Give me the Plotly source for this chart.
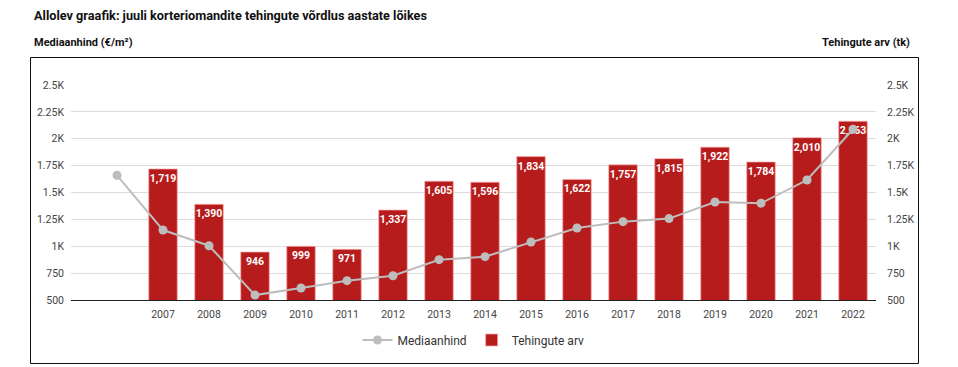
import plotly.graph_objects as go

# --- data ---
years_price = [2006, 2007, 2008, 2009, 2010, 2011, 2012, 2013, 2014, 2015,
               2016, 2017, 2018, 2019, 2020, 2021, 2022]
median_price = [1660, 1151, 1005, 546, 612, 680, 726, 875, 903, 1040,
                1170, 1229, 1257, 1412, 1400, 1616, 2088]
years_deals = [2007, 2008, 2009, 2010, 2011, 2012, 2013, 2014, 2015,
               2016, 2017, 2018, 2019, 2020, 2021, 2022]
deal_counts = [1719, 1390, 946, 999, 971, 1337, 1605, 1596, 1834,
               1622, 1757, 1815, 1922, 1784, 2010, 2163]
y_tickvals = [500, 750, 1000, 1250, 1500, 1750, 2000, 2250, 2500]
y_ticktext = ["500", "750", "1K", "1.25K", "1.5K", "1.75K", "2K", "2.25K", "2.5K"]

title_text = "Allolev graafik: juuli korteriomandite tehingute võrdlus aastate lõikes"
left_title = "Mediaanhind (€/m²)"
right_title = "Tehingute arv (tk)"

FONT = "Roboto, Arial, sans-serif"
OFF = 8  # default page body margin
W, H = 958 - OFF, 367 - OFF
L, R, T, B = 71 - OFF, 82, 85 - OFF, 67
pw, ph = W - L - R, H - T - B

def px(x):
    return (x - OFF - L) / pw

def py(y):
    return (H - B - (y - OFF)) / ph

fig = go.Figure()

fig.add_trace(go.Bar(
    x=years_deals, y=deal_counts, name="Tehingute arv",
    marker=dict(color="#B71C1C", line=dict(color="rgba(255,170,170,0.7)", width=1)),
    width=0.62,
    texttemplate="%{y:,}", textposition="inside", insidetextanchor="end",
    textangle=0,
    textfont=dict(color="white", size=10.5, family=FONT, weight="bold"),
    yaxis="y", showlegend=True,
))

fig.add_trace(go.Scatter(
    x=years_price, y=median_price, name="Mediaanhind",
    mode="lines+markers",
    line=dict(color="#BDBDBD", width=2),
    marker=dict(color="#BDBDBD", size=9),
    yaxis="y2",
))

axis_common = dict(
    range=[500, 2500], tickvals=y_tickvals, ticktext=y_ticktext,
    tickfont=dict(size=10.5, color="#444", family=FONT),
    showgrid=True, gridcolor="#dcdcdc", gridwidth=1,
    zeroline=False, fixedrange=True,
)

fig.update_layout(
    width=W, height=H,
    margin=dict(l=L, r=R, t=T, b=B),
    paper_bgcolor="white", plot_bgcolor="white",
    font=dict(family=FONT, color="#222"),
    uniformtext=dict(minsize=10.5, mode="show"),
    xaxis=dict(
        range=[2005, 2022.5], tickvals=years_deals,
        tickfont=dict(size=10.5, color="#444", family=FONT),
        showgrid=False, zeroline=False,
        showline=True, linecolor="#222", linewidth=1,
        ticks="", ticklabelstandoff=4,
    ),
    yaxis=dict(side="right", ticklabelstandoff=10, **axis_common),
    yaxis2=dict(side="left", overlaying="y", ticklabelstandoff=6, **axis_common),
    legend=dict(
        orientation="h", x=0.5, xanchor="center", y=py(340), yanchor="middle",
        font=dict(size=12, color="#333", family=FONT),
        traceorder="reversed", itemwidth=30,
    ),
    shapes=[dict(
        type="rect", xref="paper", yref="paper",
        x0=px(30.5), x1=px(918.5), y0=py(363.5), y1=py(57.5),
        line=dict(color="#111", width=1), fillcolor="rgba(0,0,0,0)", layer="below",
    )],
    annotations=[
        dict(text=title_text, xref="paper", yref="paper", x=px(32), y=py(16),
             xanchor="left", yanchor="middle", showarrow=False,
             font=dict(size=12.7, color="#111", family=FONT, weight="bold")),
        dict(text=left_title, xref="paper", yref="paper", x=px(32), y=py(42),
             xanchor="left", yanchor="middle", showarrow=False,
             font=dict(size=11, color="#111", family=FONT, weight="bold")),
        dict(text=right_title, xref="paper", yref="paper", x=px(912), y=py(42),
             xanchor="right", yanchor="middle", showarrow=False,
             font=dict(size=11, color="#111", family=FONT, weight="bold")),
    ],
)

fig.write_html("out.html")
